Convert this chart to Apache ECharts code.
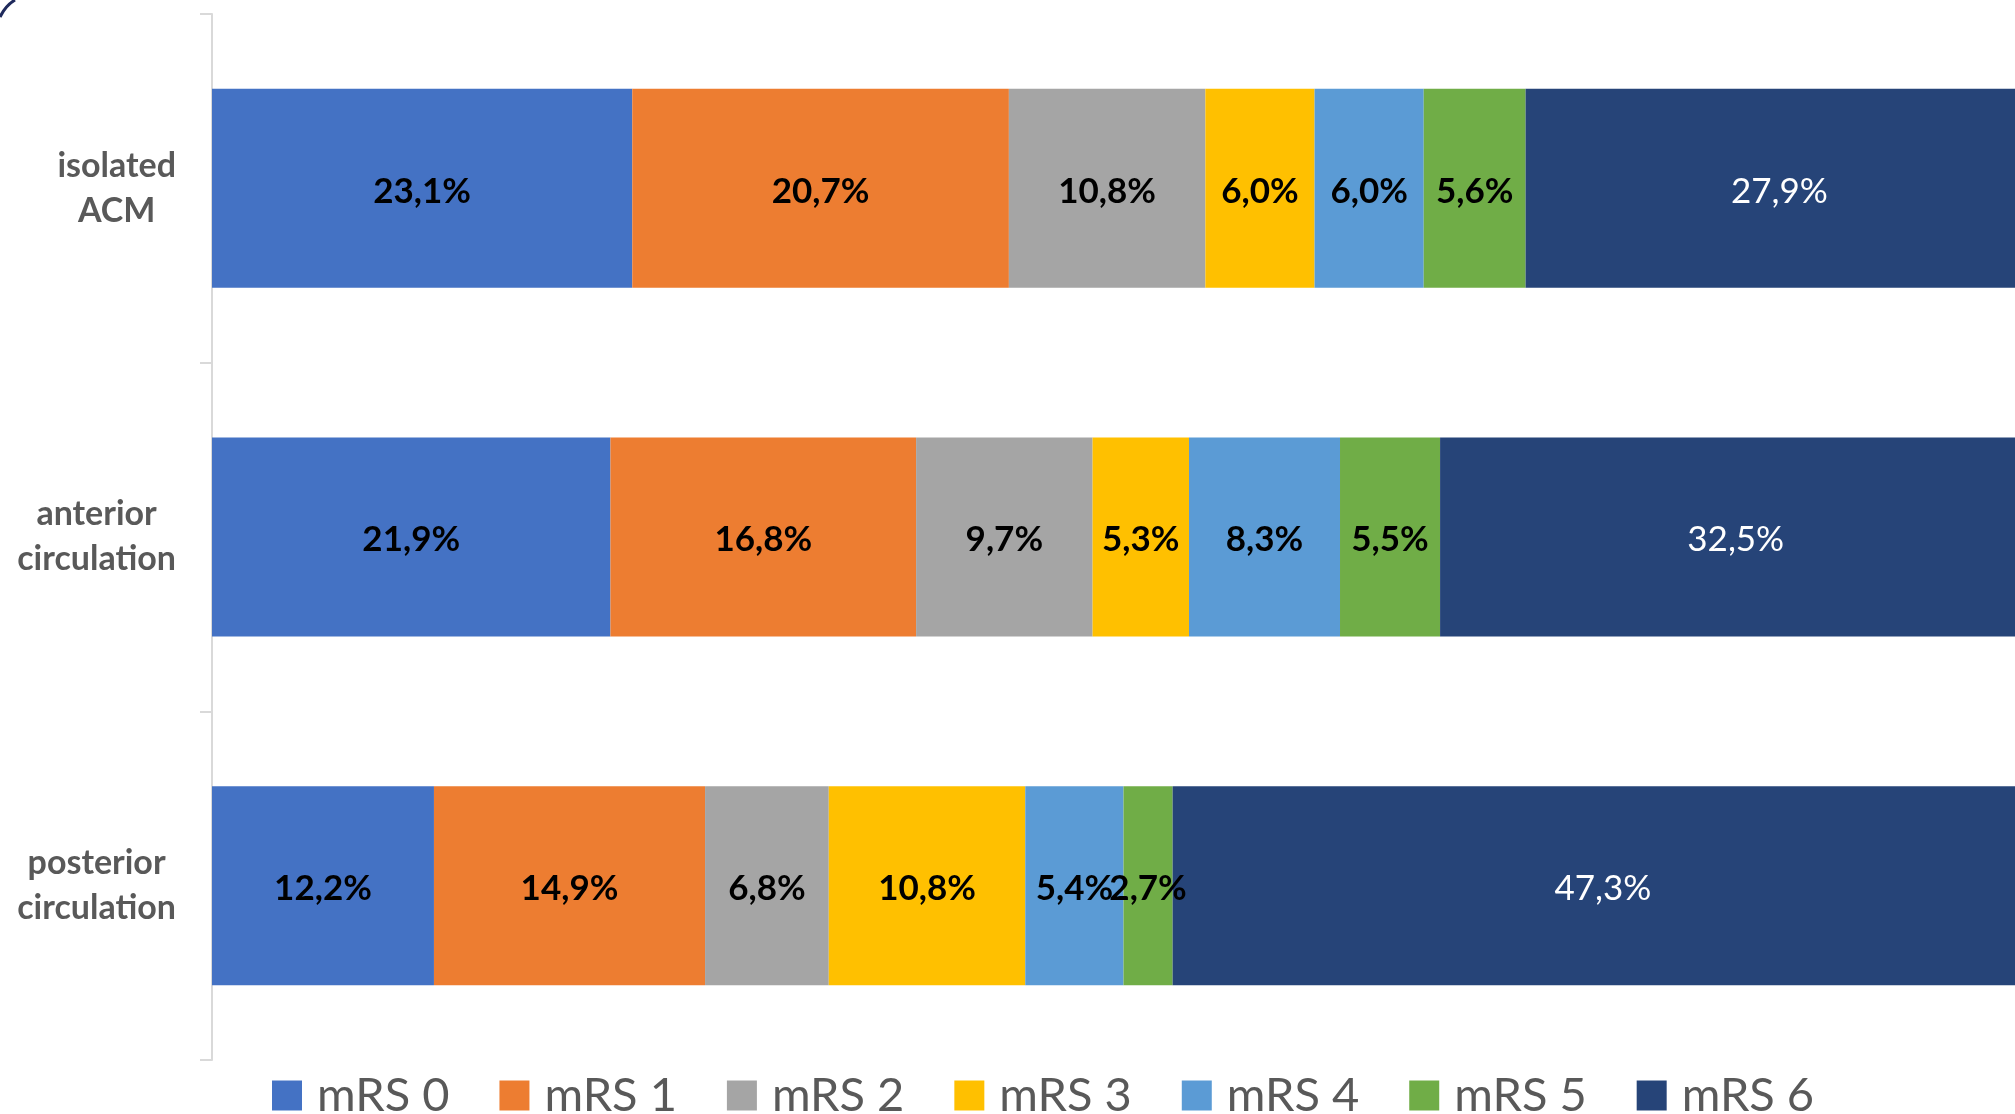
<!DOCTYPE html>
<html>
<head>
<meta charset="utf-8">
<title>mRS distribution by stroke territory</title>
<script src="https://cdn.jsdelivr.net/npm/echarts@6/dist/echarts.min.js"></script>
<style>
  html, body { margin: 0; padding: 0; background: #ffffff; }
  #chart { width: 2015px; height: 1114px; }
</style>
</head>
<body>
<div id="chart"></div>
<script>
// Stroke territory groups (top to bottom)
const categories = ['isolated\nACM', 'anterior\ncirculation', 'posterior\ncirculation'];

// Share of patients (%) per modified Rankin Scale score, one value per group
const mrs0 = [23.1, 21.9, 12.2];
const mrs1 = [20.7, 16.8, 14.9];
const mrs2 = [10.8, 9.7, 6.8];
const mrs3 = [6.0, 5.3, 10.8];
const mrs4 = [6.0, 8.3, 5.4];
const mrs5 = [5.6, 5.5, 2.7];
const mrs6 = [27.9, 32.5, 47.3];

const seriesNames = ['mRS 0', 'mRS 1', 'mRS 2', 'mRS 3', 'mRS 4', 'mRS 5', 'mRS 6'];
const seriesValues = [mrs0, mrs1, mrs2, mrs3, mrs4, mrs5, mrs6];
const colors = ['#4472C4', '#ED7D31', '#A5A5A5', '#FFC000', '#5B9BD5', '#70AD47', '#264478'];

const FONT = 'Lato, "Open Sans", sans-serif';

function pct(v) {
  return v.toFixed(1).replace('.', ',') + '%';
}

const series = seriesNames.map((name, i) => ({
  name: name,
  type: 'bar',
  stack: 'total',
  barWidth: 199,
  clip: false,
  data: seriesValues[i],
  itemStyle: { color: colors[i] },
  label: {
    show: true,
    position: 'inside',
    offset: [0, 3],
    formatter: p => pct(p.value),
    fontFamily: FONT,
    fontSize: 35,
    fontWeight: i === 6 ? 'normal' : 'bold',
    color: i === 6 ? '#ffffff' : '#000000'
  },
  emphasis: { disabled: true }
}));

const chart = echarts.init(document.getElementById('chart'), null, { renderer: 'canvas' });

chart.setOption({
  animation: false,
  backgroundColor: '#ffffff',
  color: colors,
  // the plot runs on past the right edge of the canvas: 100 % would sit at ~2032 px
  grid: { left: 212, top: 14, right: 0, height: 1046, containLabel: false },
  xAxis: {
    type: 'value',
    min: 0,
    max: 99.1,
    show: false
  },
  yAxis: {
    type: 'category',
    inverse: true,
    data: categories,
    axisLine: { show: true, lineStyle: { color: '#d9d9d9', width: 2 } },
    axisTick: { show: true, length: 12, lineStyle: { color: '#d9d9d9', width: 2 } },
    axisLabel: {
      margin: 36,
      formatter: v => v.split('\n').map(s => '{c|' + s + '}').join('\n'),
      rich: {
        c: {
          align: 'center',
          fontFamily: FONT,
          fontSize: 34,
          fontWeight: 'bold',
          color: '#595959',
          lineHeight: 45
        }
      }
    },
    splitLine: { show: false }
  },
  legend: {
    data: seriesNames,
    left: 272,
    top: 1072,
    padding: 0,
    itemWidth: 30,
    itemHeight: 30,
    itemGap: 50,
    icon: 'rect',
    selectedMode: false,
    textStyle: {
      fontFamily: FONT,
      fontSize: 47,
      lineHeight: 30,
      color: '#595959',
      padding: [4, 0, 0, 10]
    }
  },
  graphic: [{
    type: 'bezierCurve',
    shape: { x1: 0, y1: 17, cpx1: 4, cpy1: 9, cpx2: 8, cpy2: 4, x2: 15, y2: 0 },
    style: { stroke: '#1f2a5c', lineWidth: 3, fill: null }
  }],
  series: series
});
</script>
</body>
</html>
